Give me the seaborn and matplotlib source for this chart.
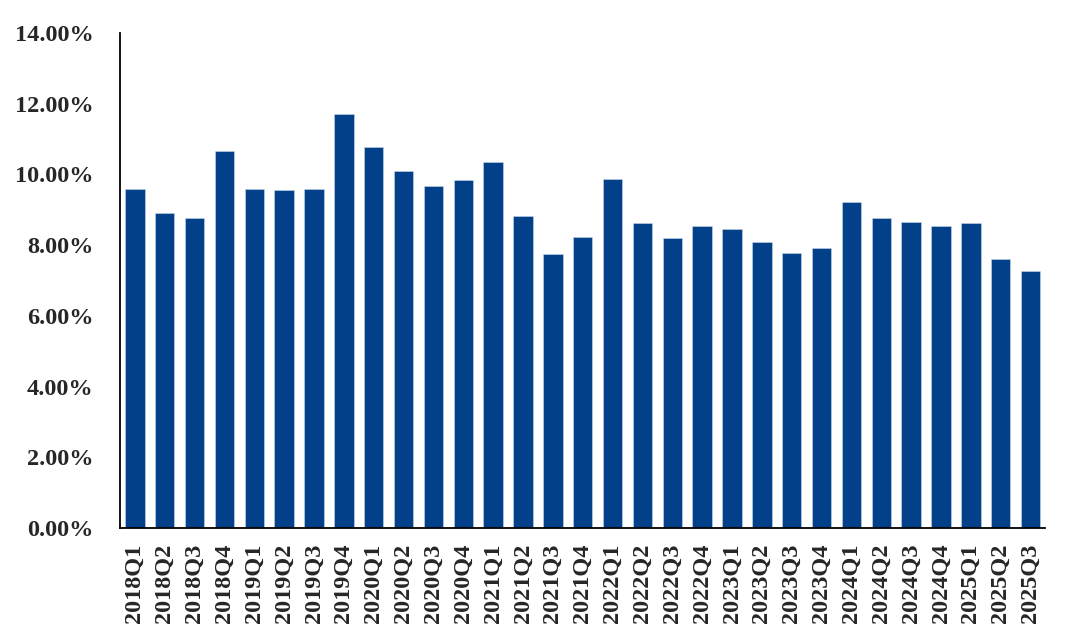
import matplotlib

matplotlib.use("Agg")
import matplotlib.pyplot as plt
import pandas as pd
import seaborn as sns
from matplotlib.ticker import FuncFormatter, MultipleLocator


QUARTERS = [
    "2018Q1", "2018Q2", "2018Q3", "2018Q4",
    "2019Q1", "2019Q2", "2019Q3", "2019Q4",
    "2020Q1", "2020Q2", "2020Q3", "2020Q4",
    "2021Q1", "2021Q2", "2021Q3", "2021Q4",
    "2022Q1", "2022Q2", "2022Q3", "2022Q4",
    "2023Q1", "2023Q2", "2023Q3", "2023Q4",
    "2024Q1", "2024Q2", "2024Q3", "2024Q4",
    "2025Q1", "2025Q2", "2025Q3",
]
VALUES = [
    9.60, 8.92, 8.76, 10.65,
    9.59, 9.55, 9.59, 11.70,
    10.77, 10.09, 9.66, 9.83,
    10.36, 8.81, 7.76, 8.22,
    9.86, 8.64, 8.19, 8.54,
    8.47, 8.10, 7.78, 7.93,
    9.22, 8.77, 8.66, 8.53,
    8.62, 7.62, 7.28,
]
BAR_COLOR = "#024189"
FONT_SIZE = 17.5


def main() -> None:
    sns.set_style("white")
    plt.rcParams["font.family"] = ["Liberation Serif", "DejaVu Serif"]
    plt.rcParams["font.weight"] = "bold"

    df = pd.DataFrame({"quarter": QUARTERS, "value": VALUES})

    fig = plt.figure(figsize=(10.8, 6.42), dpi=100)
    ax = fig.add_axes([0.111, 0.1776, 0.857, 0.771])
    sns.barplot(
        data=df,
        x="quarter",
        y="value",
        color=BAR_COLOR,
        saturation=1,
        width=0.65,
        edgecolor="#c9d6e8",
        linewidth=0.4,
        ax=ax,
    )

    ax.set_xlim(-0.5, len(QUARTERS) - 0.5)
    ax.set_ylim(0, 14)
    ax.yaxis.set_major_locator(MultipleLocator(2))
    ax.yaxis.set_major_formatter(FuncFormatter(lambda v, _: f"{v:.2f}%"))
    ax.set_xlabel("")
    ax.set_ylabel("")

    for side in ["top", "right"]:
        ax.spines[side].set_visible(False)
    for side in ["left", "bottom"]:
        ax.spines[side].set_color("black")
        ax.spines[side].set_linewidth(1.3)

    ax.tick_params(axis="y", length=0, pad=19, labelsize=FONT_SIZE)
    ax.tick_params(axis="x", length=0, pad=11, labelsize=FONT_SIZE, labelrotation=90)
    for label in ax.get_xticklabels() + ax.get_yticklabels():
        label.set_fontweight("bold")

    fig.savefig("out.png", dpi=100)
    plt.close(fig)


if __name__ == "__main__":
    main()
